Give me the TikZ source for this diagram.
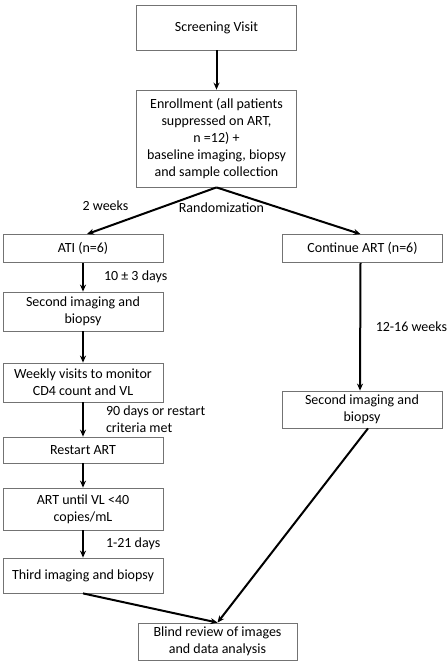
\documentclass[tikz,border=0pt]{standalone}
\usepackage{fontspec}
\setmainfont{Carlito}
\usetikzlibrary{arrows.meta}
\begin{document}
\begin{tikzpicture}[x=1pt,y=-1pt,
  box/.style={draw=black!55, line width=0.8pt, minimum width=160pt, inner sep=0pt, align=center, font=\fontsize{14}{17}\selectfont},
  conn/.style={line width=2pt, -{Stealth[length=7pt,width=6pt]}},
  lab/.style={font=\fontsize{14}{17}\selectfont, inner sep=0pt, align=left}]
\useasboundingbox (0,0) rectangle (447,664);
\node[box, minimum height=45pt] (scr) at (216.5,27.5) {Screening Visit};
\node[box, minimum height=97pt] (enr) at (216.5,138.5) {Enrollment (all patients\\suppressed on ART,\\n =12) +\\baseline imaging, biopsy\\and sample collection};
\node[box, minimum height=28pt] (ati) at (83,248.5) {ATI (n=6)};
\node[box, minimum height=28pt] (cont) at (362.5,248.5) {Continue ART (n=6)};
\node[box, minimum height=39pt] (sec1) at (83,311.5) {Second imaging and\\biopsy};
\node[box, minimum height=39pt] (week) at (83,382.5) {Weekly visits to monitor\\CD4 count and VL};
\node[box, minimum height=26pt] (rest) at (83,450) {Restart ART};
\node[box, minimum height=42pt] (until) at (83,509) {ART until VL <40\\copies/mL};
\node[box, minimum height=35pt] (third) at (83,575.5) {Third imaging and biopsy};
\node[box, minimum height=37pt] (sec2) at (362,409.5) {Second imaging and\\biopsy};
\node[box, minimum height=37pt, minimum width=159pt] (blind) at (217.5,641.5) {Blind review of images\\and data analysis};
\node[lab] (wk2) at (105.5,206) {2 weeks};
\node[lab] (rand) at (221.5,208) {Randomization};
\coordinate (apex) at (enr.south);
\draw[conn] (scr) -- (enr);
\draw[conn] (apex) -- ([xshift=4pt]ati.north);
\draw[conn] (apex) -- ([xshift=-2pt]cont.north);
\draw[conn] (ati) -- (sec1) node[lab, midway, anchor=west, xshift=20pt] {10 ± 3 days};
\draw[conn] (sec1) -- (week);
\draw[conn] (week) -- (rest) node[lab, midway, anchor=west, xshift=22pt] {90 days or restart\\criteria met};
\draw[conn] (rest) -- (until);
\draw[conn] (until) -- (third) node[lab, midway, anchor=west, xshift=22pt] {1-21 days};
\draw[conn] ([xshift=-2pt]cont.south) -- ([xshift=-2pt]sec2.north) node[lab, midway, anchor=west, xshift=14.5pt] {12-16 weeks};
\draw[conn] ([xshift=6pt]sec2.south) -- (blind.north);
\draw[conn] (third.south) -- (blind.north);
\end{tikzpicture}
\end{document}
